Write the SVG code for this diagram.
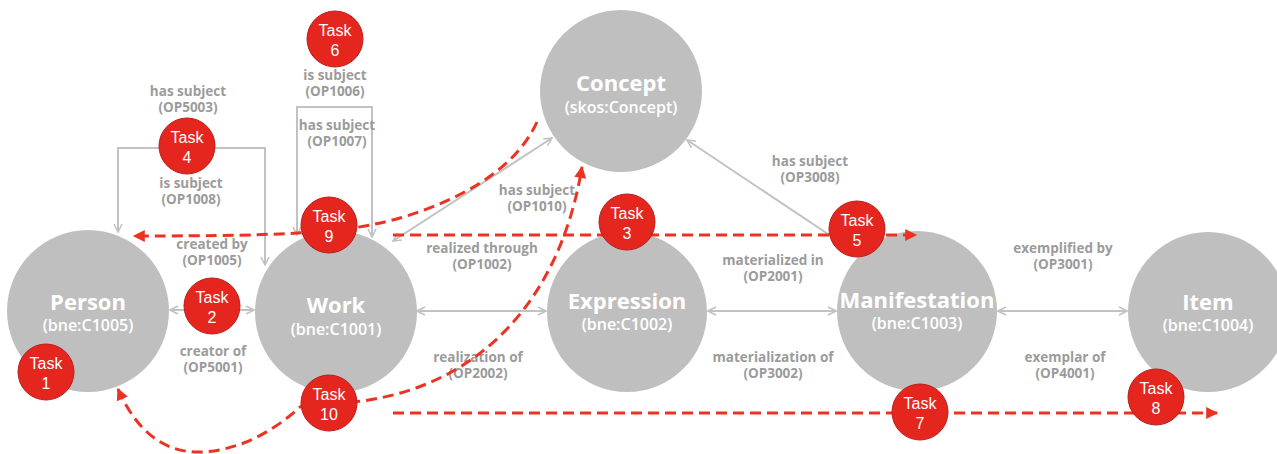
<svg xmlns="http://www.w3.org/2000/svg" width="1277" height="454" viewBox="0 0 1277 454">
<defs>
<style>
.node{fill:#bfbfbf}
.ttl{font-family:"Open Sans","Liberation Sans",sans-serif;font-weight:bold;font-size:22px;fill:#fff;text-anchor:middle}
.sub{font-family:"Open Sans","Liberation Sans",sans-serif;font-weight:600;font-size:16px;fill:#fff;text-anchor:middle}
.lbl{font-family:"Open Sans","Liberation Sans",sans-serif;font-weight:bold;font-size:13.5px;fill:#9b9b9b;text-anchor:middle}
.edge{fill:none;stroke:#c2c2c2;stroke-width:2}
.red{fill:none;stroke:#ec3323;stroke-width:3;stroke-dasharray:11 6}
.task{fill:#e5261f;stroke:#b91e19;stroke-width:1}
.tt{font-family:"Liberation Sans",Arial,sans-serif;font-size:16px;fill:#fff;text-anchor:middle}
</style>
<marker id="ga" viewBox="0 0 10 10" refX="9" refY="5" markerWidth="10" markerHeight="10" markerUnits="userSpaceOnUse" orient="auto-start-reverse">
<path d="M1,1 L9,5 L1,9" fill="none" stroke="#c2c2c2" stroke-width="1.6"/>
</marker>
<marker id="ra" viewBox="0 0 10 10" refX="9" refY="5" markerWidth="13" markerHeight="12" markerUnits="userSpaceOnUse" orient="auto-start-reverse">
<path d="M0,0 L10,5 L0,10 z" fill="#ec3323"/>
</marker>
</defs>
<rect width="1277" height="454" fill="#fff"/>

<g id="connectors">
<line class="edge" x1="170" y1="310" x2="254" y2="310" marker-start="url(#ga)" marker-end="url(#ga)"/>
<line class="edge" x1="417" y1="311" x2="546" y2="311" marker-start="url(#ga)" marker-end="url(#ga)"/>
<line class="edge" x1="708" y1="311" x2="836" y2="311" marker-start="url(#ga)" marker-end="url(#ga)"/>
<line class="edge" x1="998" y1="311" x2="1127" y2="311" marker-start="url(#ga)" marker-end="url(#ga)"/>
<line class="edge" x1="393" y1="241" x2="552" y2="138" marker-start="url(#ga)" marker-end="url(#ga)"/>
<line class="edge" x1="858" y1="254" x2="687" y2="140" marker-end="url(#ga)"/>
<path class="edge" d="M118,232 V148 H265 V265" marker-start="url(#ga)" marker-end="url(#ga)"/>
<path class="edge" d="M297,235 V107 H372 V237" marker-start="url(#ga)" marker-end="url(#ga)"/>
</g>

<g id="Concept"><circle class="node" cx="621" cy="91" r="81"/><text class="ttl" x="621" y="91">Concept</text><text class="sub" x="621" y="113">(skos:Concept)</text></g>
<g id="Person"><circle class="node" cx="88" cy="311" r="81"/><text class="ttl" x="88" y="310">Person</text><text class="sub" x="88" y="331">(bne:C1005)</text></g>
<g id="Work"><circle class="node" cx="336" cy="312" r="81"/><text class="ttl" x="336" y="313">Work</text><text class="sub" x="336" y="335">(bne:C1001)</text></g>
<g id="Expression"><circle class="node" cx="627" cy="312" r="80"/><text class="ttl" x="627" y="309">Expression</text><text class="sub" x="627" y="330">(bne:C1002)</text></g>
<g id="Manifestation"><circle class="node" cx="917" cy="311" r="80"/><text class="ttl" x="917" y="308">Manifestation</text><text class="sub" x="917" y="329">(bne:C1003)</text></g>
<g id="Item"><circle class="node" cx="1208" cy="312" r="80"/><text class="ttl" x="1208" y="310">Item</text><text class="sub" x="1208" y="331">(bne:C1004)</text></g>

<g id="labels">
<text class="lbl" x="188" y="96">has subject<tspan x="188" y="112">(OP5003)</tspan></text>
<text class="lbl" x="191" y="188">is subject<tspan x="191" y="204">(OP1008)</tspan></text>
<text class="lbl" x="335" y="80">is subject<tspan x="335" y="96">(OP1006)</tspan></text>
<text class="lbl" x="337" y="130">has subject<tspan x="337" y="146">(OP1007)</tspan></text>
<text class="lbl" x="212" y="249">created by<tspan x="212" y="265">(OP1005)</tspan></text>
<text class="lbl" x="213" y="356">creator of<tspan x="213" y="372">(OP5001)</tspan></text>
<text class="lbl" x="482" y="253">realized through<tspan x="482" y="269">(OP1002)</tspan></text>
<text class="lbl" x="478" y="362">realization of<tspan x="478" y="378">(OP2002)</tspan></text>
<text class="lbl" x="773" y="265">materialized in<tspan x="773" y="281">(OP2001)</tspan></text>
<text class="lbl" x="773" y="362">materialization of<tspan x="773" y="378">(OP3002)</tspan></text>
<text class="lbl" x="1063" y="253">exemplified by<tspan x="1063" y="269">(OP3001)</tspan></text>
<text class="lbl" x="1065" y="362">exemplar of<tspan x="1065" y="378">(OP4001)</tspan></text>
<text class="lbl" x="537" y="195">has subject<tspan x="537" y="211">(OP1010)</tspan></text>
<text class="lbl" x="810" y="166">has subject<tspan x="810" y="182">(OP3008)</tspan></text>
</g>

<g id="tasks-paths">
<path class="red" d="M537,122 C515,170 460,200 400,218 C350,232 300,236 134,236" marker-end="url(#ra)"/>
<path class="red" d="M393,235 H916" marker-end="url(#ra)"/>
<path class="red" d="M393,413 H1217" marker-end="url(#ra)"/>
<path class="red" d="M118,389 C138,435 168,453 200,452 C240,451 275,430 300,407 C315,400 340,403 362,401 C480,385 560,300 582,167" marker-start="url(#ra)" marker-end="url(#ra)"/>
</g>

<g id="task1"><circle class="task" cx="46" cy="372" r="28"/><text class="tt" x="46" y="369">Task</text><text class="tt" x="46" y="389">1</text></g>
<g id="task2"><circle class="task" cx="212" cy="306" r="28"/><text class="tt" x="212" y="303">Task</text><text class="tt" x="212" y="323">2</text></g>
<g id="task3"><circle class="task" cx="627" cy="222" r="28"/><text class="tt" x="627" y="219">Task</text><text class="tt" x="627" y="239">3</text></g>
<g id="task4"><circle class="task" cx="187" cy="146" r="28"/><text class="tt" x="187" y="143">Task</text><text class="tt" x="187" y="163">4</text></g>
<g id="task5"><circle class="task" cx="857" cy="229" r="28"/><text class="tt" x="857" y="226">Task</text><text class="tt" x="857" y="246">5</text></g>
<g id="task6"><circle class="task" cx="335" cy="39" r="28"/><text class="tt" x="335" y="36">Task</text><text class="tt" x="335" y="56">6</text></g>
<g id="task7"><circle class="task" cx="920" cy="412" r="28"/><text class="tt" x="920" y="409">Task</text><text class="tt" x="920" y="429">7</text></g>
<g id="task8"><circle class="task" cx="1156" cy="397" r="28"/><text class="tt" x="1156" y="394">Task</text><text class="tt" x="1156" y="414">8</text></g>
<g id="task9"><circle class="task" cx="329" cy="225" r="28"/><text class="tt" x="329" y="222">Task</text><text class="tt" x="329" y="242">9</text></g>
<g id="task10"><circle class="task" cx="329" cy="403" r="28"/><text class="tt" x="329" y="400">Task</text><text class="tt" x="329" y="420">10</text></g>
</svg>
